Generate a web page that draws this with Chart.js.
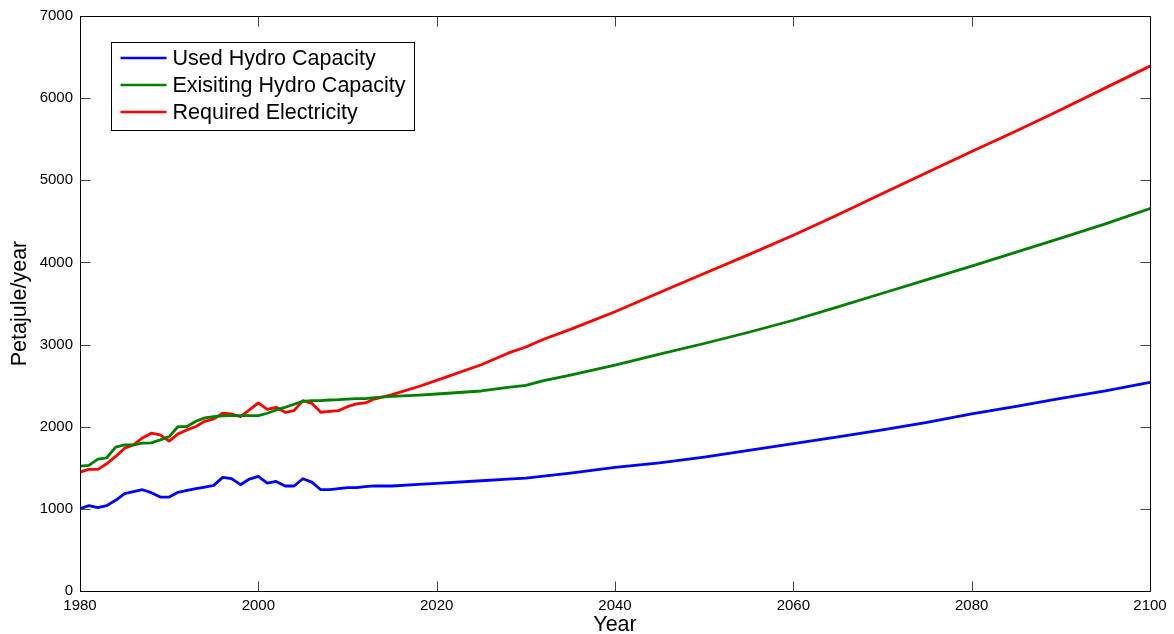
<!DOCTYPE html>
<html>
<head>
<meta charset="utf-8">
<script src="https://cdn.jsdelivr.net/npm/chart.js@4/dist/chart.umd.min.js"></script>
<style>
  html, body { margin: 0; padding: 0; background: #fff; }
  #wrap { width: 1174px; height: 634px; }
</style>
</head>
<body>
<div id="wrap"><canvas id="c" width="1174" height="634"></canvas></div>
<script>
// ---- Data ----
const years = [
  1980,1981,1982,1983,1984,1985,1986,1987,1988,1989,
  1990,1991,1992,1993,1994,1995,1996,1997,1998,1999,
  2000,2001,2002,2003,2004,2005,2006,2007,2008,2009,
  2010,2011,2012,2013,
  2015,2018,2020,2025,2028,2030,2032,2035,2040,2045,
  2050,2055,2060,2065,2070,2075,2080,2085,2090,2095,2100
];
const usedHydro = [
  1003,1039,1015,1039,1104,1185,1209,1233,1197,1144,
  1144,1201,1225,1246,1266,1286,1383,1367,1294,1363,
  1395,1314,1334,1278,1278,1367,1326,1233,1233,1246,
  1258,1258,1270,1280,
  1278,1298,1310,1342,1362,1375,1398,1436,1504,1561,
  1630,1711,1795,1875,1961,2054,2155,2248,2345,2435,2540
];
const existingHydro = [
  1520,1529,1605,1622,1751,1779,1779,1800,1804,1840,
  1880,2002,2002,2066,2107,2123,2131,2135,2135,2135,
  2135,2164,2204,2236,2273,2309,2317,2317,2325,2329,
  2337,2341,2341,2354,
  2370,2385,2398,2435,2479,2503,2560,2629,2750,2883,
  3013,3150,3296,3460,3625,3790,3955,4125,4295,4470,4655
];
const requiredElec = [
  1448,1480,1480,1549,1638,1739,1779,1864,1921,1901,
  1824,1913,1961,2002,2066,2095,2164,2155,2123,2204,
  2289,2212,2236,2176,2196,2317,2285,2176,2188,2196,
  2244,2277,2289,2337,
  2390,2490,2565,2755,2895,2970,3065,3185,3400,3635,
  3865,4095,4330,4580,4840,5095,5350,5600,5860,6125,6390
];
const seriesNames = ['Used Hydro Capacity', 'Exisiting Hydro Capacity', 'Required Electricity'];
const seriesColors = ['#0000ff', '#008000', '#ff0000'];
const xTicks = [1980, 2000, 2020, 2040, 2060, 2080, 2100];
const yTicks = [0, 1000, 2000, 3000, 4000, 5000, 6000, 7000];

const FONT = '"Liberation Sans", Arial, Helvetica, sans-serif';
Chart.defaults.font.family = FONT;
Chart.defaults.color = '#000';

function pts(vals) { return years.map((x, i) => ({ x: x, y: vals[i] })); }

const boxAndTicks = {
  id: 'boxAndTicks',
  afterDatasetsDraw(chart) {
    const { ctx, chartArea: a, scales } = chart;
    const L = Math.round(a.left) + 0.5, R = Math.round(a.right) + 0.5;
    const T = Math.round(a.top) + 0.5, B = Math.round(a.bottom) + 0.5;
    const len = 10;
    ctx.save();
    ctx.lineWidth = 1;
    ctx.strokeStyle = '#444';
    ctx.beginPath();
    xTicks.forEach(v => {
      const px = Math.round(scales.x.getPixelForValue(v)) + 0.5;
      ctx.moveTo(px, B); ctx.lineTo(px, B - len);
      ctx.moveTo(px, T); ctx.lineTo(px, T + len);
    });
    yTicks.forEach(v => {
      const py = Math.round(scales.y.getPixelForValue(v)) + 0.5;
      ctx.moveTo(L, py); ctx.lineTo(L + len, py);
      ctx.moveTo(R, py); ctx.lineTo(R - len, py);
    });
    ctx.stroke();
    ctx.strokeStyle = '#000';
    ctx.strokeRect(L, T, R - L, B - T);
    ctx.restore();
  },
  afterDraw(chart) {
    const { ctx, chartArea: a } = chart;
    const bx = Math.round(a.left) + 31.5, by = Math.round(a.top) + 26.5;
    const bw = 303, bh = 88;
    ctx.save();
    ctx.fillStyle = '#fff';
    ctx.fillRect(bx, by, bw, bh);
    ctx.lineWidth = 1;
    ctx.strokeStyle = '#000';
    ctx.strokeRect(bx, by, bw, bh);
    ctx.font = '21.5px ' + FONT;
    ctx.textBaseline = 'middle';
    ctx.textAlign = 'left';
    chart.data.datasets.forEach((ds, i) => {
      const y = by + 15.5 + i * 27;
      ctx.strokeStyle = ds.borderColor;
      ctx.lineWidth = 2.6;
      ctx.beginPath();
      ctx.moveTo(bx + 9, y); ctx.lineTo(bx + 55, y);
      ctx.stroke();
      ctx.fillStyle = '#000';
      ctx.fillText(ds.label, bx + 61, y + 1);
    });
    ctx.restore();
  }
};

new Chart(document.getElementById('c'), {
  type: 'line',
  data: {
    datasets: [
      { label: seriesNames[0], data: pts(usedHydro), borderColor: seriesColors[0] },
      { label: seriesNames[1], data: pts(existingHydro), borderColor: seriesColors[1] },
      { label: seriesNames[2], data: pts(requiredElec), borderColor: seriesColors[2] }
    ]
  },
  options: {
    responsive: false,
    animation: false,
    devicePixelRatio: 1,
    layout: { padding: { top: 14, right: 24, left: 0, bottom: 0 } },
    elements: {
      point: { radius: 0 },
      line: { borderWidth: 2.8, tension: 0, borderJoinStyle: 'round', borderCapStyle: 'round' }
    },
    plugins: { legend: { display: false }, tooltip: { enabled: false } },
    scales: {
      x: {
        type: 'linear', min: 1980, max: 2100,
        afterBuildTicks: s => { s.ticks = xTicks.map(v => ({ value: v })); },
        afterFit: s => { s.height = 43; },
        grid: { display: false, drawTicks: false },
        border: { display: false },
        ticks: { font: { size: 15 }, color: '#000', padding: 6, maxRotation: 0, autoSkip: false,
                 callback: v => String(v) },
        title: { display: true, text: 'Year', font: { size: 21.5, lineHeight: 1 }, color: '#000', padding: { top: 0, bottom: -2 } }
      },
      y: {
        type: 'linear', min: 0, max: 7000,
        afterBuildTicks: s => { s.ticks = yTicks.map(v => ({ value: v })); },
        afterFit: s => { s.width = 80; },
        grid: { display: false, drawTicks: false },
        border: { display: false },
        ticks: { font: { size: 15 }, color: '#000', padding: 7, autoSkip: false,
                 callback: v => String(v) },
        title: { display: true, text: 'Petajule/year', font: { size: 21.5, lineHeight: 1 }, color: '#000', padding: { top: 9, bottom: 0 } }
      }
    }
  },
  plugins: [boxAndTicks]
});
</script>
</body>
</html>
